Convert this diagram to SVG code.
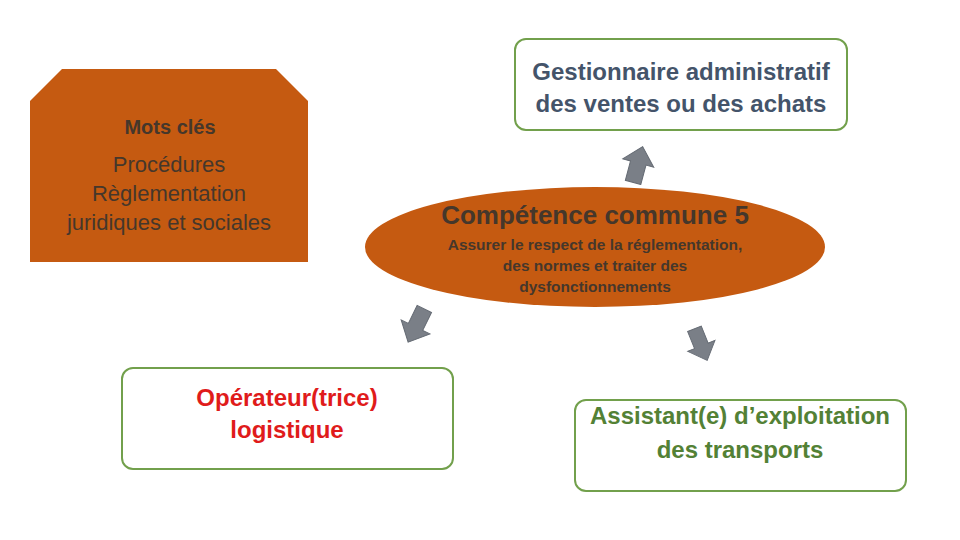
<svg xmlns="http://www.w3.org/2000/svg" width="960" height="540" viewBox="0 0 960 540">
<defs>
<style>
.box{fill:#ffffff;stroke:#72a04c;stroke-width:2}
.orange{fill:#c55a11}
.arrow{fill:#7a7f87;stroke:#646a73;stroke-width:1}
text{font-family:"Liberation Sans",Arial,sans-serif;text-anchor:middle}
.dark{fill:#45372b}
.b{font-weight:bold}
</style>
<path id="arr" d="M-8,-19 H8 V1 H16 L0,18 L-16,1 H-8 Z"/>
</defs>
<rect width="960" height="540" fill="#ffffff"/>
<g id="motscles">
<polygon class="orange" points="62,69 276,69 308,101 308,262 30,262 30,101"/>
<text class="dark b" x="170" y="134" font-size="20">Mots clés</text>
<text class="dark" x="169" y="172" font-size="22">Procédures</text>
<text class="dark" x="169" y="201" font-size="22">Règlementation</text>
<text class="dark" x="169" y="230" font-size="22">juridiques et sociales</text>
</g>
<g id="competence">
<ellipse class="orange" cx="595" cy="247" rx="230" ry="60"/>
<text class="dark b" x="595" y="224" font-size="26">Compétence commune 5</text>
<text class="dark b" x="595" y="250" font-size="15.5">Assurer le respect de la réglementation,</text>
<text class="dark b" x="595" y="271" font-size="15.5">des normes et traiter des</text>
<text class="dark b" x="595" y="292" font-size="15.5">dysfonctionnements</text>
</g>
<g id="gestionnaire">
<rect class="box" x="515" y="39" width="332" height="91" rx="11"/>
<text class="b" x="681" y="80" font-size="24" fill="#44546a">Gestionnaire administratif</text>
<text class="b" x="681" y="112" font-size="24" fill="#44546a">des ventes ou des achats</text>
</g>
<g id="operateur">
<rect class="box" x="122" y="368" width="331" height="101" rx="11"/>
<text class="b" x="287" y="406" font-size="24" fill="#e01b1b">Opérateur(trice)</text>
<text class="b" x="287" y="438" font-size="24" fill="#e01b1b">logistique</text>
</g>
<g id="assistant">
<rect class="box" x="575" y="400" width="331" height="91" rx="11"/>
<text class="b" x="740" y="424" font-size="24" fill="#538135">Assistant(e) d’exploitation</text>
<text class="b" x="740" y="458" font-size="24" fill="#538135">des transports</text>
</g>
<g id="connectors">
<use href="#arr" class="arrow" transform="translate(638,164) rotate(195)"/>
<use href="#arr" class="arrow" transform="translate(416,326) rotate(26)"/>
<use href="#arr" class="arrow" transform="translate(701,345) rotate(-22) scale(0.92)"/>
</g>
</svg>
